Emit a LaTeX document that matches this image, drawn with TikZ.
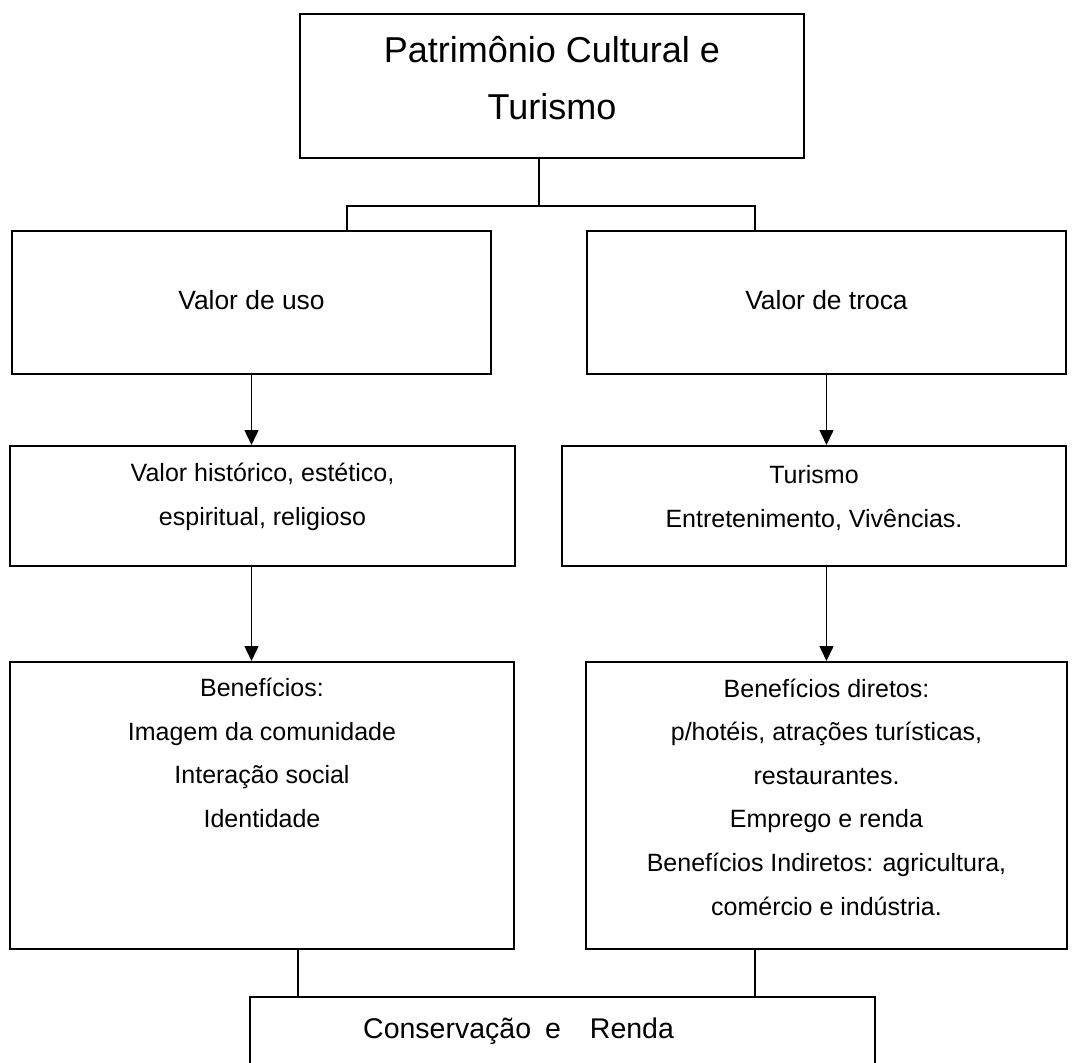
\documentclass[tikz,border=0pt]{standalone}
\usepackage{fontspec}
\setmainfont{Liberation Sans}
\usetikzlibrary{arrows.meta}

\tikzset{
  quadro/.style={rectangle, draw=black, line width=2pt, fill=none},
  texto/.style={align=center, font=\fontsize{25}{43.6}\selectfont},
  valor/.style={texto, font=\fontsize{26.4}{44}\selectfont},
  titulo/.style={align=center, font=\fontsize{36}{57}\selectfont},
  liga/.style={line width=1.5pt, color=black},
  seta/.style={liga, -{Triangle[width=14pt,length=15pt]}}
}

\begin{document}
\begin{tikzpicture}
            [every node/.style={inner sep=0pt}]
                \useasboundingbox (0pt, 0pt) rectangle (1075pt, -1062pt);
                % caixas
                \node (topo) [quadro, minimum width=504pt, minimum height=144pt] at (552pt, -86pt) {};
                \node (uso) [quadro, minimum width=479pt, minimum height=143pt] at (251.5pt, -302.5pt) {};
                \node (troca) [quadro, minimum width=479pt, minimum height=143pt] at (826.5pt, -302.5pt) {};
                \node (hist) [quadro, minimum width=505pt, minimum height=120pt] at (262.5pt, -506pt) {};
                \node (tur) [quadro, minimum width=504pt, minimum height=120pt] at (814pt, -506pt) {};
                \node (benef) [quadro, minimum width=504pt, minimum height=287pt] at (262pt, -805.5pt) {};
                \node (diretos) [quadro, minimum width=481pt, minimum height=287pt] at (826.5pt, -805.5pt) {};
                \node (renda) [quadro, minimum width=625pt, minimum height=103pt] at (562.5pt, -1048.5pt) {};
                % textos
                \node (topo-t) [titulo] at (552pt, -78pt) {Patrimônio Cultural e\\Turismo};
                \node (uso-t) [valor, anchor=base] at (251.5pt, -309pt) {Valor de uso};
                \node (troca-t) [valor, anchor=base] at (826.5pt, -309pt) {Valor de troca};
                \node (hist-t) [texto] at (262.5pt, -497pt) {Valor histórico, estético,\\espiritual, religioso};
                \node (tur-t) [texto] at (814pt, -498pt) {Turismo\\Entretenimento, Vivências.};
                \node (benef-t) [texto] at (262pt, -753pt) {Benefícios:\\Imagem da comunidade\\Interação social\\Identidade};
                \node (diretos-t) [texto] at (826.5pt, -797pt) {Benefícios diretos:\\p/hotéis, atrações turísticas,\\restaurantes.\\Emprego e renda\\Benefícios Indiretos: agricultura,\\comércio e indústria.};
                \node (renda-t) [texto, font=\fontsize{28.5}{44}\selectfont, anchor=base west] at (363pt, -1038pt) {Conservação\hspace{14pt}e\hspace{29pt}Renda};
                % ligacoes
                \coordinate (ramo-e) at (347pt, -206pt);
                \coordinate (ramo-d) at (755pt, -206pt);
                \coordinate (junta-e) at (298pt, -949pt);
                \coordinate (junta-d) at (755pt, -949pt);
                \draw [liga] (topo.south -| 539pt,0) -- (ramo-e -| 539pt,0);
                \draw [liga] (uso.north -| ramo-e) -- (ramo-e) -- (ramo-d) -- (troca.north -| ramo-d);
                \draw [seta] (uso.south) to (uso.south |- hist.north);
                \draw [seta] (troca.south) to (troca.south |- tur.north);
                \draw [seta] (hist.south -| uso.south) to (uso.south |- benef.north);
                \draw [seta] (tur.south -| troca.south) to (troca.south |- diretos.north);
                \draw [liga] (benef.south -| junta-e) -- (renda.north -| junta-e);
                \draw [liga] (diretos.south -| junta-d) -- (renda.north -| junta-d);
            \end{tikzpicture}
\end{document}
